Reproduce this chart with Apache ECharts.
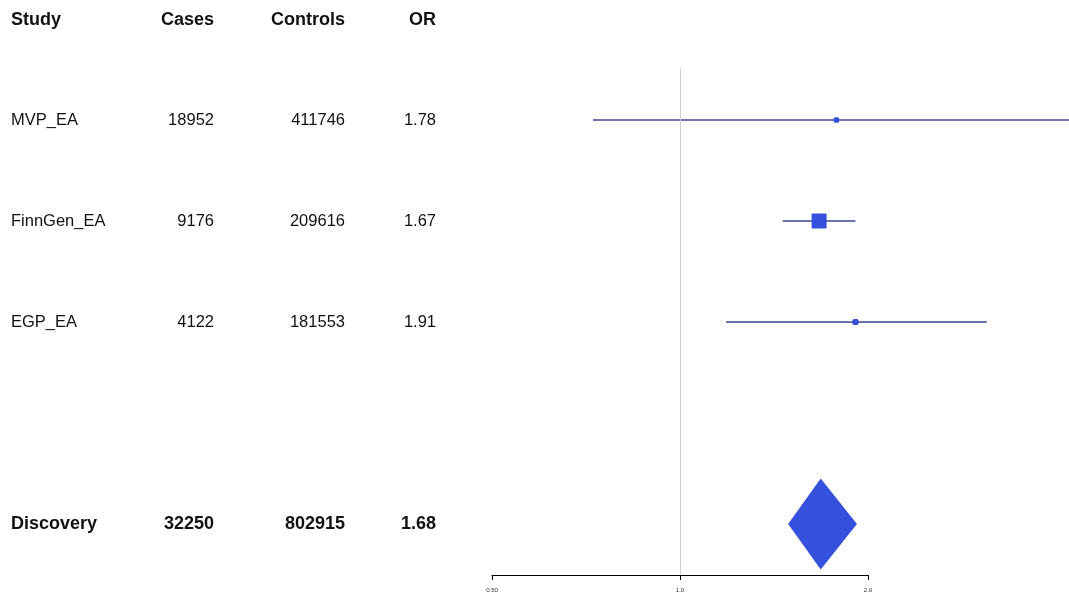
<!DOCTYPE html>
<html><head><meta charset="utf-8">
<script src="https://cdn.jsdelivr.net/npm/echarts@6/dist/echarts.min.js"></script>
<style>html,body{margin:0;padding:0;background:#fff}#c{width:1069px;height:598px}</style>
</head><body><div id="c"></div>
<script>
// ---- data ----
const headers = ['Study', 'Cases', 'Controls', 'OR'];
const studies = ['MVP_EA', 'FinnGen_EA', 'EGP_EA'];
const cases = [18952, 9176, 4122];
const controls = [411746, 209616, 181553];
const orVals = [1.78, 1.67, 1.91];
const ciLow = [0.726, 1.46, 1.185];
const ciHigh = [4.4, 1.91, 3.10];
const weights = [5.5, 15, 6];
const studyRows = [0, 1, 2];
const pooledName = 'Discovery';
const pooledCases = 32250;
const pooledControls = 802915;
const pooledOR = 1.68;
const pooledLow = 1.49;
const pooledHigh = 1.92;
const pooledRow = 4;
const xTicks = [0.5, 1, 2];
const xTickLabels = ['0.50', '1.0', '2.0'];

// ---- layout ----
const colX = [11, 214, 345, 436];
const colAlign = ['left', 'right', 'right', 'right'];
const FONT = '"Liberation Sans", Arial, sans-serif';

const chart = echarts.init(document.getElementById('c'), null, {renderer: 'canvas'});

const studyData = studies.map((s, i) => [ciLow[i], orVals[i], ciHigh[i], studyRows[i], weights[i]]);
const textRows = studies.map((s, i) => ({row: studyRows[i], vals: [s, String(cases[i]), String(controls[i]), orVals[i].toFixed(2)], bold: false}));
textRows.push({row: pooledRow, vals: [pooledName, String(pooledCases), String(pooledControls), pooledOR.toFixed(2)], bold: true});

const graphics = headers.map((h, j) => ({
  type: 'text', x: colX[j], y: 20,
  style: {text: h, textAlign: colAlign[j], textVerticalAlign: 'middle', font: 'bold 18px ' + FONT, fill: '#111'}
}));

chart.setOption({
  animation: false,
  backgroundColor: '#fff',
  grid: {left: 492, right: 201, top: 68, bottom: 23, containLabel: false},
  xAxis: {
    type: 'log', logBase: 2, min: xTicks[0], max: xTicks[xTicks.length - 1],
    splitLine: {show: false},
    axisLine: {show: true, onZero: false, lineStyle: {color: '#000', width: 1.2}},
    axisTick: {show: true, length: 5, lineStyle: {color: '#000'}},
    minorTick: {show: false},
    axisLabel: {fontSize: 6, color: '#333', margin: 12, fontFamily: FONT,
      formatter: function (v) { const k = xTicks.findIndex(t => Math.abs(t - v) < 1e-9); return k >= 0 ? xTickLabels[k] : ''; }}
  },
  yAxis: {type: 'value', inverse: true, min: -0.515, max: 4.505, show: false},
  graphic: graphics,
  series: [
    {
      type: 'custom', name: 'studies', clip: false, z: 3,
      data: studyData,
      renderItem: function (params, api) {
        const y = api.value(3);
        const lo = api.coord([api.value(0), y]);
        const hi = api.coord([api.value(2), y]);
        const c = api.coord([api.value(1), y]);
        const s = api.value(4);
        return {type: 'group', children: [
          {type: 'line', shape: {x1: lo[0], y1: lo[1], x2: hi[0], y2: hi[1]}, style: {stroke: '#3f4391', lineWidth: 1.3}},
          {type: 'rect', shape: {x: c[0] - s / 2, y: c[1] - s / 2, width: s, height: s, r: s > 8 ? 1 : 1.5}, style: {fill: '#3550dc'}}
        ]};
      },
      markLine: {
        silent: true, symbol: 'none', label: {show: false},
        lineStyle: {color: '#cfcfcf', type: 'solid', width: 1},
        data: [{xAxis: 1}]
      }
    },
    {
      type: 'custom', name: 'pooled', clip: false, z: 3,
      data: [[pooledLow, pooledOR, pooledHigh, pooledRow]],
      renderItem: function (params, api) {
        const y = api.value(3);
        const lo = api.coord([api.value(0), y]);
        const hi = api.coord([api.value(2), y]);
        const c = api.coord([api.value(1), y]);
        const h = 45.5;
        return {type: 'polygon', shape: {points: [[lo[0], lo[1]], [c[0], c[1] - h], [hi[0], hi[1]], [c[0], c[1] + h]]}, style: {fill: '#3550dc'}};
      }
    },
    {
      type: 'custom', name: 'table', clip: false, z: 3, silent: true,
      data: textRows.map(r => [1, r.row]),
      renderItem: function (params, api) {
        const r = textRows[params.dataIndex];
        const y = api.coord([1, api.value(1)])[1];
        return {type: 'group', children: r.vals.map((t, j) => ({
          type: 'text', x: colX[j], y: y,
          style: {text: t, textAlign: colAlign[j], textVerticalAlign: 'middle',
            font: (r.bold ? 'bold 18px ' : '16.5px ') + FONT, fill: '#111'}
        }))};
      }
    }
  ]
});
</script>
</body></html>
